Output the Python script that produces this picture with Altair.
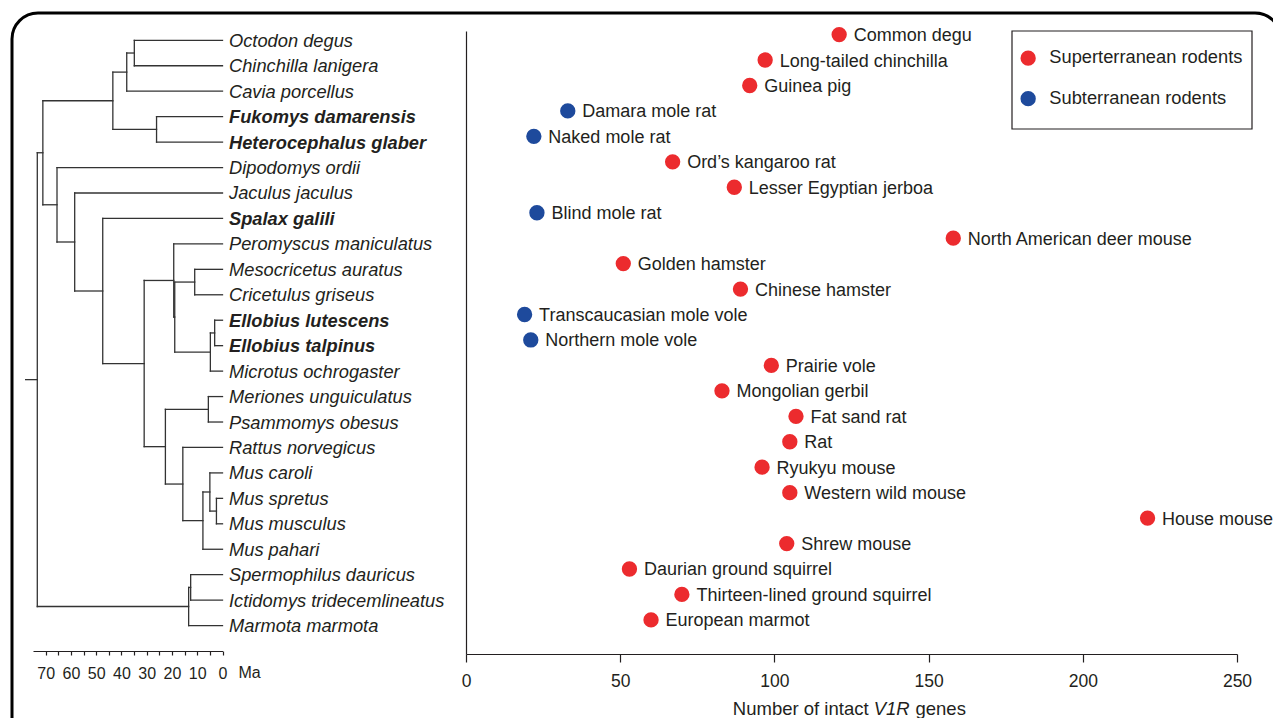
import altair as alt
import pandas as pd

FONT = "Liberation Sans"
TXT = "#231f20"
LINE = "#333333"

# ---------------- data ----------------
species = [
    "Octodon degus", "Chinchilla lanigera", "Cavia porcellus", "Fukomys damarensis",
    "Heterocephalus glaber", "Dipodomys ordii", "Jaculus jaculus", "Spalax galili",
    "Peromyscus maniculatus", "Mesocricetus auratus", "Cricetulus griseus",
    "Ellobius lutescens", "Ellobius talpinus", "Microtus ochrogaster",
    "Meriones unguiculatus", "Psammomys obesus", "Rattus norvegicus", "Mus caroli",
    "Mus spretus", "Mus musculus", "Mus pahari", "Spermophilus dauricus",
    "Ictidomys tridecemlineatus", "Marmota marmota",
]
common_names = [
    "Common degu", "Long-tailed chinchilla", "Guinea pig", "Damara mole rat",
    "Naked mole rat", "Ord\u2019s kangaroo rat", "Lesser Egyptian jerboa", "Blind mole rat",
    "North American deer mouse", "Golden hamster", "Chinese hamster",
    "Transcaucasian mole vole", "Northern mole vole", "Prairie vole", "Mongolian gerbil",
    "Fat sand rat", "Rat", "Ryukyu mouse", "Western wild mouse", "House mouse",
    "Shrew mouse", "Daurian ground squirrel", "Thirteen-lined ground squirrel",
    "European marmot",
]
v1r_counts = [121, 97, 92, 33, 22, 67, 87, 23, 158, 51, 89, 19, 21, 99, 83, 107,
              105, 96, 105, 221, 104, 53, 70, 60]
subterranean = [False, False, False, True, True, False, False, True, False, False,
                False, True, True, False, False, False, False, False, False, False,
                False, False, False, False]
habitat_labels = ["Superterranean rodents", "Subterranean rodents"]
habitat_colors = ["#ec2b2e", "#1e4a9c"]

# tree: internal nodes with divergence ages (Ma); leaves are row indices
node_names = ["root", "A", "Hys", "C", "E", "D", "B", "F", "G", "H", "I", "K", "L",
              "M", "N", "J", "O", "P", "Q", "R", "S", "T", "U"]
node_ages = [73.3, 71.1, 43.4, 37.9, 34.9, 26.1, 65.5, 58.5, 47.4, 31.0, 19.3, 18.9,
             11.0, 4.8, 3.1, 22.6, 5.6, 15.7, 7.75, 5.0, 2.4, 13.4, 12.6]
node_children = {
    "root": ["A", "T"], "A": ["Hys", "B"], "Hys": ["C", "D"], "C": ["E", 2],
    "E": [0, 1], "D": [3, 4], "B": [5, "F"], "F": [6, "G"], "G": [7, "H"],
    "H": ["I", "J"], "I": [8, "K"], "K": ["L", "M"], "L": [9, 10], "M": ["N", 13],
    "N": [11, 12], "J": ["O", "P"], "O": [14, 15], "P": [16, "Q"], "Q": ["R", 20],
    "R": [17, "S"], "S": [18, 19], "T": ["U", 23], "U": [21, 22],
}
root_stem_age = 77.9

ma_ticks = list(range(0, 71, 5))
count_ticks = [0, 50, 100, 150, 200, 250]
title_parts = ["Number of intact", "V1R", "genes"]

# ---------------- build tables ----------------
age_of = dict(zip(node_names, node_ages))
segs = []


def place(n):
    if isinstance(n, int):
        return float(n), 0.0
    ys = []
    for c in node_children[n]:
        cy, cage = place(c)
        segs.append(dict(x=age_of[n], x2=cage, y=cy, y2=cy))
        ys.append(cy)
    segs.append(dict(x=age_of[n], x2=age_of[n], y=min(ys), y2=max(ys)))
    return (min(ys) + max(ys)) / 2, age_of[n]


ry, rage = place("root")
segs.append(dict(x=root_stem_age, x2=rage, y=ry, y2=ry))
seg_df = pd.DataFrame(segs)

sp_df = pd.DataFrame({
    "species": species,
    "common": common_names,
    "v1r": v1r_counts,
    "sub": subterranean,
    "row": list(range(len(species))),
    "tip": [0] * len(species),
    "habitat": [habitat_labels[1] if s else habitat_labels[0] for s in subterranean],
})

W, H = 1261, 705

# ---------------- scales ----------------
tree_x = alt.Scale(domain=[0, 75], range=[210.5, 21], nice=False, zero=False)
tree_y = alt.Scale(domain=[0, 23], range=[27.3, 612.6], nice=False, zero=False)
dot_x = alt.Scale(domain=[0, 250], range=[454, 1225], nice=False, zero=False)
dot_y = alt.Scale(domain=[-0.14, 24.34], range=[18, 641], nice=False, zero=False)

tree_axis = alt.Axis(
    orient="bottom", offset=638 - H, values=ma_ticks,
    labelExpr="datum.value % 10 == 0 ? datum.label : ''",
    tickSize=4, labelPadding=10, labelFontSize=16, labelFont=FONT, labelColor=TXT,
    domainColor=TXT, tickColor=TXT, domainWidth=1.2, tickWidth=1.2, grid=False,
    labelFlush=False, labelOverlap=False,
    title="Ma", titleX=226, titleY=26, titleAlign="left", titleBaseline="alphabetic",
    titleFontSize=16, titleFontWeight="normal", titleFont=FONT, titleColor=TXT, titleAngle=0,
)

count_axis = alt.Axis(
    orient="bottom", offset=641 - H, values=count_ticks, tickSize=8, labelPadding=10,
    labelFontSize=17.5, labelFont=FONT, labelColor=TXT, domainColor=TXT, tickColor=TXT,
    domainWidth=1.2, tickWidth=1.2, grid=False, title=None, labelFlush=False,
)
row_axis = alt.Axis(
    orient="left", offset=-454, ticks=False, labels=False, title=None, grid=False,
    domainColor=TXT, domainWidth=1.2,
)

# ---------------- layers ----------------
frame = alt.Chart(pd.DataFrame({"frame": [0]})).mark_rect(
    fill=None, stroke="black", strokeWidth=3, cornerRadius=26
).encode(
    x=alt.value(0), x2=alt.value(W + 8), y=alt.value(0), y2=alt.value(H + 40),
)

legend_box = alt.Chart(pd.DataFrame({"box": [0]})).mark_rect(
    fill="white", stroke=TXT, strokeWidth=1.2
).encode(
    x=alt.value(1000), x2=alt.value(1240), y=alt.value(18), y2=alt.value(116),
)

tree_rules = alt.Chart(seg_df).mark_rule(
    color=LINE, strokeWidth=1.3, strokeCap="square"
).encode(
    x=alt.X("x:Q", scale=tree_x, axis=tree_axis),
    x2="x2:Q",
    y=alt.Y("y:Q", scale=tree_y, axis=None),
    y2="y2:Q",
)

label_base = alt.Chart(sp_df).encode(
    x=alt.X("tip:Q", scale=tree_x, axis=None),
    y=alt.Y("row:Q", scale=tree_y, axis=None),
    text="species:N",
)
tree_labels = label_base.transform_filter("!datum.sub").mark_text(
    align="left", baseline="middle", dx=6.5, dy=1.5, font=FONT, fontSize=18.3,
    fontStyle="italic", color=TXT,
)
tree_labels_bold = label_base.transform_filter("datum.sub").mark_text(
    align="left", baseline="middle", dx=6.5, dy=1.5, font=FONT, fontSize=18.3,
    fontStyle="italic", fontWeight="bold", color=TXT,
)

dots = alt.Chart(sp_df).mark_circle(size=235, opacity=1).encode(
    x=alt.X("v1r:Q", scale=dot_x, axis=count_axis),
    y=alt.Y("row:Q", scale=dot_y, axis=row_axis),
    color=alt.Color(
        "habitat:N",
        scale=alt.Scale(domain=habitat_labels, range=habitat_colors),
        legend=alt.Legend(
            orient="none", legendX=998, legendY=17, title=" ", titleFontSize=8,
            titlePadding=2, titleColor="white", padding=9,
            strokeColor="transparent", fillColor="transparent", labelFontSize=18.3,
            labelFont=FONT, labelColor=TXT, labelLimit=400, symbolSize=235,
            symbolType="circle", symbolOpacity=1, symbolStrokeWidth=0, labelOffset=12,
            rowPadding=21.5, direction="vertical",
        ),
    ),
)

dot_labels = alt.Chart(sp_df).mark_text(
    align="left", baseline="middle", dx=14.5, dy=1.5, font=FONT, fontSize=18, color=TXT,
).encode(
    x=alt.X("v1r:Q", scale=dot_x, axis=None),
    y=alt.Y("row:Q", scale=dot_y, axis=None),
    text="common:N",
)

TY = 702
t1 = alt.Chart(pd.DataFrame({"t": [title_parts[0]]})).mark_text(
    align="right", baseline="alphabetic", font=FONT, fontSize=18.5, color=TXT,
).encode(x=alt.value(856.6), y=alt.value(TY), text="t:N")
t2 = alt.Chart(pd.DataFrame({"t": [title_parts[1]]})).mark_text(
    align="left", baseline="alphabetic", font=FONT, fontSize=18.5, color=TXT,
    fontStyle="italic",
).encode(x=alt.value(861.7), y=alt.value(TY), text="t:N")
t3 = alt.Chart(pd.DataFrame({"t": [title_parts[2]]})).mark_text(
    align="left", baseline="alphabetic", font=FONT, fontSize=18.5, color=TXT,
).encode(x=alt.value(903.5), y=alt.value(TY), text="t:N")

chart = alt.layer(
    frame, legend_box, tree_rules, tree_labels, tree_labels_bold, dots, dot_labels,
    t1, t2, t3
).resolve_scale(
    x="independent", y="independent"
).properties(
    width=W, height=H,
    padding={"left": 4, "top": 5, "right": 0, "bottom": 0},
    autosize=alt.AutoSizeParams(type="none"),
).configure_view(
    strokeWidth=0,
)

chart.save("out.html", embed_options={"renderer": "svg", "actions": False})
